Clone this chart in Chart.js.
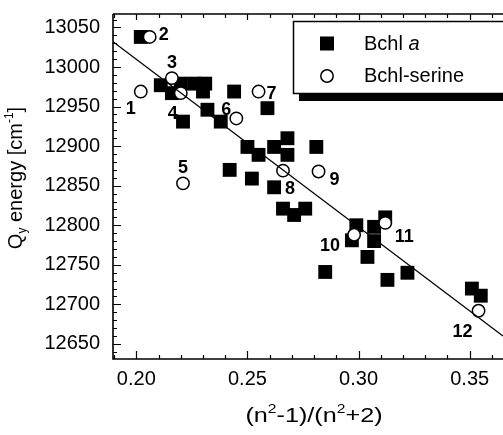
<!DOCTYPE html>
<html>
<head>
<meta charset="utf-8">
<script src="https://cdn.jsdelivr.net/npm/chart.js@4/dist/chart.umd.min.js"></script>
<style>
  html, body { margin: 0; padding: 0; background: #fff; }
</style>
</head>
<body>
<canvas id="grafico" width="503" height="435"></canvas>
<script>
// Bchl a (cuadrados negros)
const bchlX = [0.202, 0.211, 0.216, 0.220, 0.226, 0.231, 0.230, 0.232, 0.221, 0.238, 0.244, 0.259,
               0.250, 0.255, 0.262, 0.268, 0.268, 0.281, 0.242, 0.252, 0.262, 0.266, 0.271, 0.276,
               0.285, 0.299, 0.297, 0.307, 0.312, 0.307, 0.304, 0.313, 0.322, 0.351, 0.355];
const bchlY = [13038, 12977, 12967, 12979, 12979, 12979, 12969, 12946, 12931, 12931, 12969, 12948,
               12899, 12889, 12899, 12910, 12889, 12899, 12870, 12859, 12848, 12821, 12813, 12821,
               12741, 12800, 12781, 12798, 12810, 12780, 12760, 12731, 12740, 12720, 12711];

// Bchl-serine (circulos blancos)
const serX = [0.202, 0.206, 0.216, 0.220, 0.221, 0.245, 0.255, 0.266, 0.282, 0.298, 0.312, 0.354];
const serY = [12969, 13038, 12986, 12967, 12853, 12935, 12969, 12869, 12868, 12788, 12803, 12692];
const serEtiquetas = ['1', '2', '3', '4', '5', '6', '7', '8', '9', '10', '11', '12'];

// recta de ajuste
const ajusteX = [0.1895, 0.365];
const ajusteY = [13032, 12660];

// marcas de los ejes
const xTicks = [0.20, 0.25, 0.30, 0.35];
const yTicks = [12650, 12700, 12750, 12800, 12850, 12900, 12950, 13000, 13050];

// desplazamiento (px) de cada numero respecto a su circulo
const etiquetaDx = [-10, 14, 0, -8, 0, -10, 13, 7, 16, -24, 19, -16];
const etiquetaDy = [17, -2, -15, 21, -15, -8, 2, 18, 9, 11, 14, 21];

const fuente = '"Liberation Sans", Arial, sans-serif';

function puntos(xs, ys) {
    return xs.map((x, i) => ({ x: x, y: ys[i] }));
}

// marco, marcas interiores, textos extra y leyenda
const extras = {
    id: 'extras',
    afterDatasetsDraw(chart) {
        const ctx = chart.ctx;
        const area = chart.chartArea;
        const sx = chart.scales.x;
        const sy = chart.scales.y;
        ctx.save();
        ctx.strokeStyle = '#000';
        ctx.lineWidth = 1.6;
        ctx.beginPath();
        ctx.moveTo(area.left, area.top);
        ctx.lineTo(area.left, area.bottom);
        ctx.lineTo(area.right + 2, area.bottom);
        ctx.moveTo(area.left, area.top);
        ctx.lineTo(area.right + 2, area.top);
        ctx.stroke();

        ctx.lineWidth = 1.2;
        ctx.beginPath();
        for (let i = 19; i <= 36; i++) {
            const v = i / 100;
            const px = Math.round(sx.getPixelForValue(v)) + 0.5;
            const mayor = i % 5 === 0;
            const largo = mayor ? 8 : 4;
            ctx.moveTo(px, area.bottom);
            ctx.lineTo(px, area.bottom - largo);
            ctx.moveTo(px, area.top);
            ctx.lineTo(px, area.top + (mayor ? 6 : 4));
        }
        for (let v = 12640; v <= 13060; v += 10) {
            const py = Math.round(sy.getPixelForValue(v)) + 0.5;
            const largo = v % 50 === 0 ? 8 : 4;
            ctx.moveTo(area.left, py);
            ctx.lineTo(area.left + largo, py);
        }
        ctx.stroke();

        // numeros de los circulos
        ctx.fillStyle = '#000';
        ctx.font = 'bold 18px ' + fuente;
        ctx.textAlign = 'center';
        ctx.textBaseline = 'middle';
        serEtiquetas.forEach((t, i) => {
            const px = sx.getPixelForValue(serX[i]) + etiquetaDx[i];
            const py = sy.getPixelForValue(serY[i]) + etiquetaDy[i];
            ctx.fillText(t, px, py);
        });
        ctx.restore();
    },
    afterDraw(chart) {
        const ctx = chart.ctx;
        ctx.save();
        ctx.fillStyle = '#000';
        ctx.textBaseline = 'alphabetic';
        ctx.textAlign = 'left';

        // titulo eje x: (n^2-1)/(n^2+2)
        ctx.save();
        ctx.translate(314, 422);
        ctx.scale(1.2, 1);
        const partesX = [['(n', 0], ['2', 1], ['-1)/(n', 0], ['2', 1], ['+2)', 0]];
        dibujarPartes(ctx, partesX, 0, 0, 21);
        ctx.restore();

        // titulo eje y: Q_y energy [cm^-1]
        ctx.translate(22, 178);
        ctx.rotate(-Math.PI / 2);
        const partesY = [['Q', 0], ['y', -1], [' energy [cm', 0], ['-1', 1], [']', 0]];
        dibujarPartes(ctx, partesY, 0, 0, 20);
        ctx.restore();

        // leyenda con sombra
        ctx.save();
        ctx.fillStyle = '#000';
        ctx.fillRect(299, 93, 210, 8);
        ctx.fillStyle = '#fff';
        ctx.fillRect(293, 21, 215, 72);
        ctx.strokeStyle = '#000';
        ctx.lineWidth = 1.5;
        ctx.strokeRect(293.5, 21.5, 215, 72);
        ctx.fillStyle = '#000';
        ctx.fillRect(320, 36.5, 14, 14);
        ctx.beginPath();
        ctx.arc(327, 76, 6.2, 0, Math.PI * 2);
        ctx.fillStyle = '#fff';
        ctx.fill();
        ctx.stroke();
        ctx.fillStyle = '#000';
        ctx.textBaseline = 'middle';
        ctx.font = '20px ' + fuente;
        ctx.fillText('Bchl ', 364, 44);
        const w = ctx.measureText('Bchl ').width;
        ctx.font = 'italic 20px ' + fuente;
        ctx.fillText('a', 364 + w, 44);
        ctx.font = '20px ' + fuente;
        ctx.fillText('Bchl-serine', 364, 76);
        ctx.restore();
    }
};

// texto con super/subindices centrado en (cx, base)
function dibujarPartes(ctx, partes, cx, base, tam) {
    const chico = Math.round(tam * 0.62);
    let total = 0;
    partes.forEach(p => {
        ctx.font = (p[1] ? chico : tam) + 'px ' + fuente;
        total += ctx.measureText(p[0]).width;
    });
    let x = cx - total / 2;
    partes.forEach(p => {
        ctx.font = (p[1] ? chico : tam) + 'px ' + fuente;
        let y = base;
        if (p[1] === 1) y = base - tam * 0.45;
        if (p[1] === -1) y = base + tam * 0.22;
        ctx.fillText(p[0], x, y);
        x += ctx.measureText(p[0]).width;
    });
}

function sinRelleno(s) {
    s.paddingTop = 0;
    s.paddingBottom = 0;
    s.paddingLeft = 0;
    s.paddingRight = 0;
}

const ctx = document.getElementById('grafico').getContext('2d');
new Chart(ctx, {
    type: 'scatter',
    data: {
        datasets: [
            {
                label: 'ajuste',
                type: 'line',
                data: puntos(ajusteX, ajusteY),
                borderColor: '#000',
                borderWidth: 1.4,
                pointRadius: 0,
                fill: false,
                order: 0
            },
            {
                label: 'Bchl-serine',
                data: puntos(serX, serY),
                pointStyle: 'circle',
                pointRadius: 6.2,
                pointBackgroundColor: '#fff',
                pointBorderColor: '#000',
                pointBorderWidth: 1.5,
                order: 1
            },
            {
                label: 'Bchl a',
                data: puntos(bchlX, bchlY),
                pointStyle: 'rect',
                pointRadius: 9.8,
                pointBackgroundColor: '#000',
                pointBorderColor: '#000',
                pointBorderWidth: 0,
                order: 2
            }
        ]
    },
    options: {
        responsive: false,
        animation: false,
        devicePixelRatio: 1,
        layout: { autoPadding: false, padding: { top: 14, right: 0, left: 0, bottom: 0 } },
        plugins: {
            legend: { display: false },
            tooltip: { enabled: false }
        },
        scales: {
            x: {
                type: 'linear',
                min: 0.1895,
                max: 0.365,
                grid: { display: false, drawTicks: false },
                border: { display: false },
                ticks: {
                    color: '#000',
                    font: { family: fuente, size: 20 },
                    padding: 8,
                    autoSkip: false,
                    maxRotation: 0,
                    callback: v => v.toFixed(2)
                },
                afterBuildTicks: s => { s.ticks = xTicks.map(v => ({ value: v })); },
                afterFit: s => { s.height = 76; sinRelleno(s); }
            },
            y: {
                type: 'linear',
                min: 12631,
                max: 13067,
                grid: { display: false, drawTicks: false },
                border: { display: false },
                ticks: {
                    color: '#000',
                    font: { family: fuente, size: 20 },
                    padding: 13,
                    autoSkip: false,
                    callback: v => String(v)
                },
                afterBuildTicks: s => { s.ticks = yTicks.map(v => ({ value: v })); },
                afterFit: s => { s.width = 113; sinRelleno(s); }
            }
        }
    },
    plugins: [extras]
});
</script>
</body>
</html>
